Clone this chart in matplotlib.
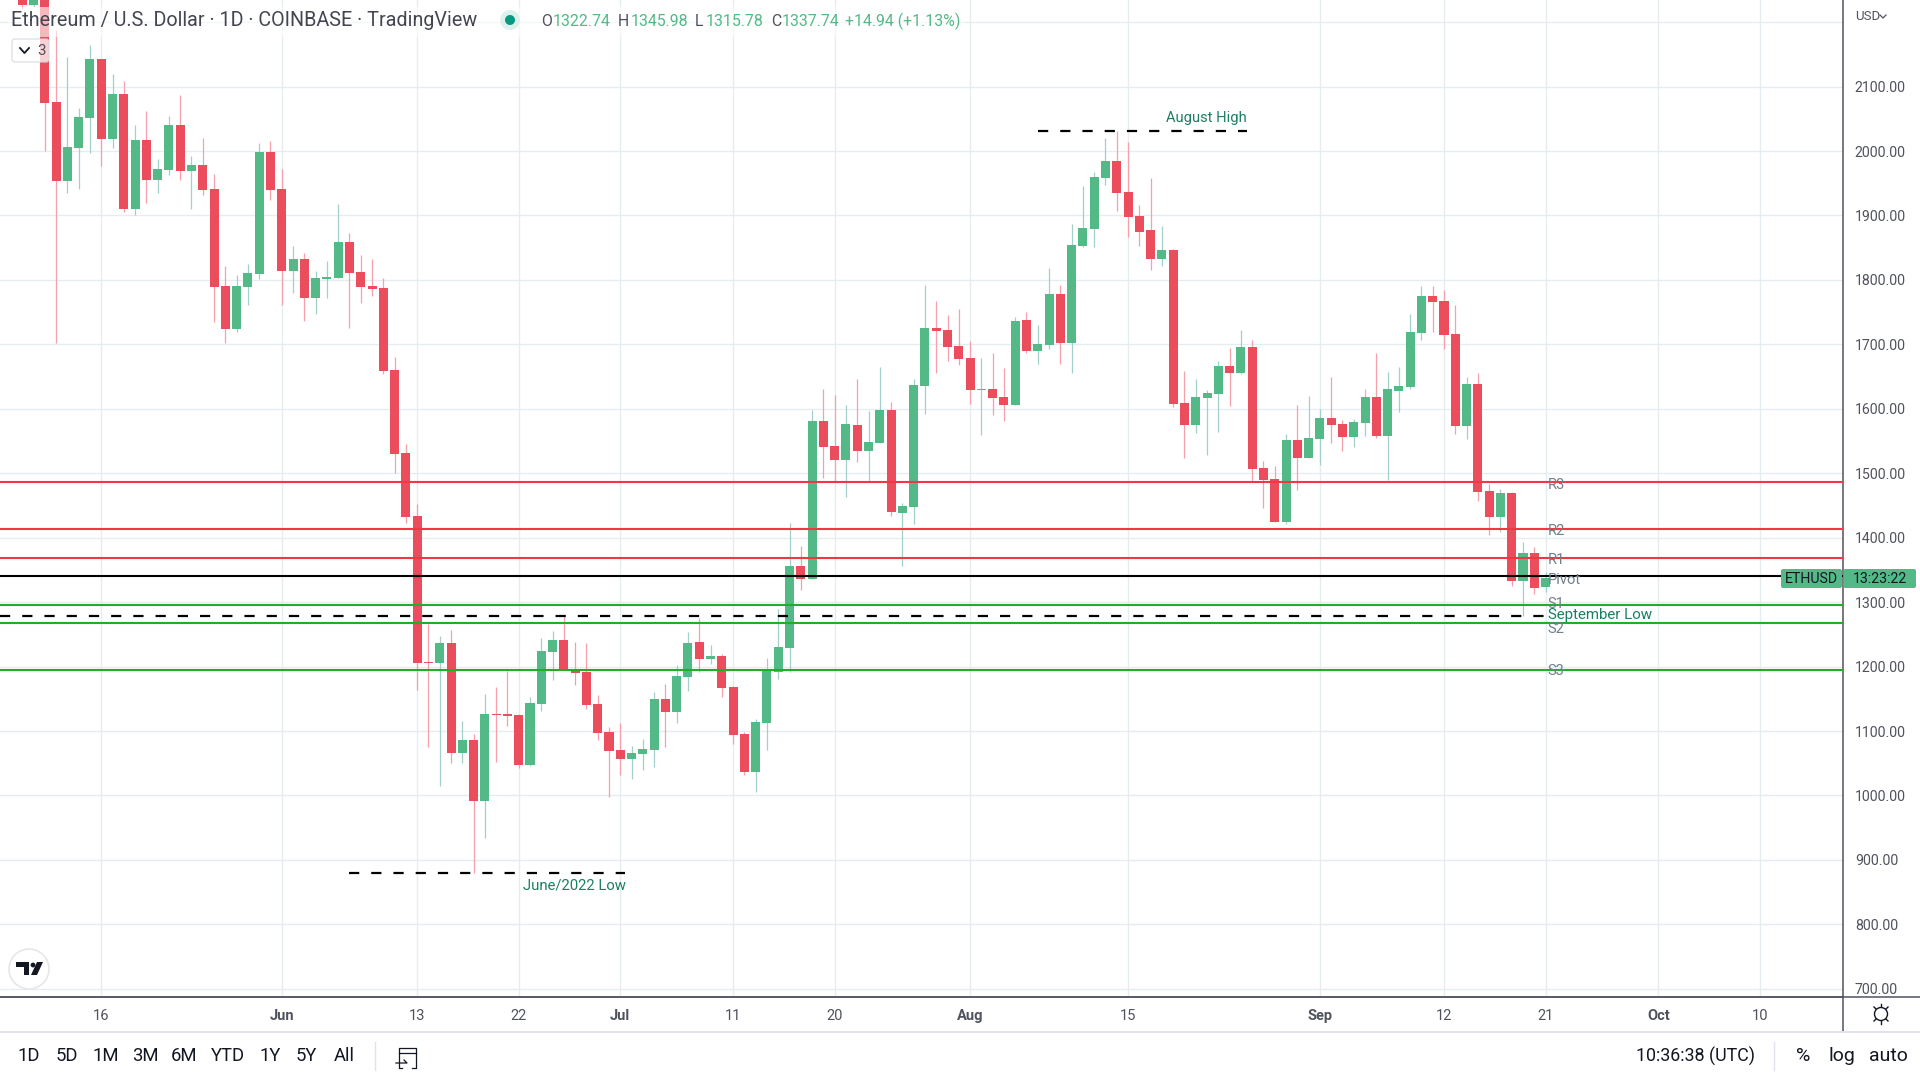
import matplotlib
matplotlib.use("Agg")
import matplotlib.pyplot as plt
from matplotlib.patches import Rectangle, FancyBboxPatch, Circle, Polygon

FONT = ['Roboto', 'DejaVu Sans']
plt.rcParams['font.family'] = FONT

first_day = -7
opens = [2245,2226,2245,2076,1953.5,2004.6,2051,2142.7,2018.6,2088,1910,2017,1955,1970.5,2040,1969,1978,1941,1790.5,1724,1789,1809,1998.4,1941,1814,1832.4,1772,1801,1803,1859,1812.5,1790.5,1787.4,1660,1531.4,1433.6,1207,1205.6,1236.6,1066,1086,991.4,1126,1126.4,1124.9,1047.8,1142,1222.6,1241,1193,1191.6,1142,1098.5,1070.5,1056.6,1064.3,1070.5,1149.7,1129.5,1183.8,1238,1211.8,1216.4,1168.4,1095.4,1036.4,1113,1191.6,1228.9,1356,1335.9,1581,1542.3,1520.5,1574.8,1534.5,1547,1598,1438.3,1447.6,1635.4,1725.4,1722.3,1697.4,1678.8,1629,1630.7,1618.3,1605.9,1737.8,1689.7,1699,1778.1,1702,1852.6,1879,1958,1984.5,1936.4,1899,1877.4,1832.4,1846.4,1609,1574.8,1616.7,1622.9,1666.4,1655.5,1695.9,1508,1491,1424.4,1551.6,1523.7,1553,1585.7,1576.4,1556.3,1578,1618.3,1557.8,1627.6,1633.8,1717.6,1775,1767.3,1716,1573.3,1638.5,1472.5,1432,1469.4,1332.8,1376.3,1322.74]
closes = [2226,2250,2075,1953.5,2006,2052.7,2142.7,2018.6,2088,1910,2017,1955,1972,2040,1969,1978,1939.5,1789,1724,1790.5,1811,1998.4,1939.5,1814,1832.4,1772,1803,1804.5,1859,1811,1789,1786,1658.6,1529.9,1432,1205.6,1205.6,1236.6,1066,1086,991.4,1126.4,1124.9,1123,1047.8,1143.5,1224,1241,1196,1190,1140.4,1097,1069,1056.6,1066,1072,1149.7,1129.5,1185.4,1236.6,1211.8,1216.4,1166.8,1093.8,1036.4,1114,1194.7,1230.4,1356,1335.9,1581,1540.7,1520.5,1576.4,1534.5,1548.5,1598,1439.9,1449.2,1636.9,1725.4,1720.7,1695.9,1677.3,1629,1630.7,1616.7,1605.9,1736.2,1689.7,1700.5,1778.1,1702,1854,1880.5,1959.7,1984.5,1934.8,1897.6,1874.3,1832.4,1846.4,1607.4,1574.8,1618.3,1624.5,1666.4,1655.5,1695.9,1506.6,1489.5,1424.3,1551.6,1523.7,1554.7,1585.7,1574.9,1556.3,1579.5,1618.3,1557.8,1630.7,1635.4,1719.2,1775,1765.7,1714.5,1573.3,1638.5,1470.9,1432,1469.4,1332.8,1376.3,1322,1337.74]
highs = [2260,2270,2260,2188,2146,2066.7,2164,2143,2119.5,2108.6,2040,2062,1987.6,2054,2087,1992,2020,1964,1821.6,1807.6,1825,2012,2015.5,1972,1852.6,1841.7,1814,1829,1918,1873,1838,1832.4,1803,1680,1545.4,1452,1266,1247.5,1256.8,1115,1096,1157.5,1168.3,1193,1126.4,1152.8,1244,1255,1280,1238,1236.6,1155.9,1107,1112,1077,1087.6,1160.6,1173,1202.5,1253.6,1275.4,1233.5,1219.5,1169.9,1098.5,1118.7,1213,1289.4,1422.8,1387,1598,1630.7,1621.4,1605.9,1646,1596.6,1664.8,1610.5,1453.8,1646,1792,1767.3,1745.5,1754.8,1705,1678.8,1686.6,1663.3,1742.4,1750,1730,1818.5,1792,1887,1945.7,1967.4,2020,2031,2014,1916,1958,1883.6,1848,1658.6,1646,1629,1674,1694,1722.3,1706.8,1519,1511,1560.9,1605.9,1619.9,1599,1649.4,1582.6,1584,1630.7,1686.6,1657,1664.9,1747,1790.5,1790.5,1784.3,1761,1649.4,1655.6,1483.3,1475.6,1471,1393.4,1385.6,1345.98]
lows = [2220,2223,2000,1701.6,1935,1941.5,1997,1977,2004.6,1905,1900.7,1919,1935,1963,1955,1910,1932,1735,1702,1719,1761,1801,1924,1761,1779.7,1736,1747,1772,1803,1725,1764,1775,1654,1500.4,1422.8,1163.7,1075,1014,1050,1050,879,934.5,1052.4,1108,1043,1045,1131,1179,1194.7,1171,1134,1086,998,1031.8,1025.5,1039.5,1044.7,1075.7,1112,1162,1191.6,1204,1152.8,1080,1031.8,1006,1070.5,1180.7,1191.6,1318.8,1335.9,1492.6,1488,1463,1517.4,1488,1547,1433.6,1356,1421.3,1592,1655.5,1674,1668,1607.4,1559.3,1590.4,1581,1605.9,1686.6,1669.5,1692.8,1669.5,1655.5,1851,1851,1947,1907,1866.6,1852.6,1815.4,1821.6,1602.8,1523.6,1562.4,1528.3,1564,1604.3,1654,1488,1446,1424,1421.8,1474,1523.7,1512.8,1547,1534.5,1540.7,1557.8,1554.7,1489.5,1595,1630.7,1706.8,1719,1692.8,1560.9,1553,1457,1404,1408.9,1325,1278.5,1312.6,1315.78]

pivot_names = ['R3','R2','R1','Pivot','S1','S2','S3']
pivot_values = [1486.4,1413.5,1368.5,1340.6,1295.6,1267.6,1194.7]
pivot_colors = ['#F23645','#F23645','#F23645','#000000','#1FAE2A','#1FAE2A','#1FAE2A']
pivot_label_values = [1482,1411,1366,1334,1297,1259,1193.7]

y_ticks = [700,800,900,1000,1100,1200,1300,1400,1500,1600,1700,1800,1900,2000,2100,2200]
y_labels = ['700.00','800.00','900.00','1000.00','1100.00','1200.00','1300.00','1400.00','1500.00','1600.00','1700.00','1800.00','1900.00','2000.00','2100.00','']
x_ticks = [0,16,28,37,46,56,65,77,91,108,119,128,138,147]
x_labels = ['16','Jun','13','22','Jul','11','20','Aug','15','Sep','12','21','Oct','10']
bold_labels = ['Jun','Jul','Aug','Sep','Oct']

GREEN = '#53B987'; RED = '#EB4D5C'
GREEN_W = '#A3CFCB'; RED_W = '#F5A0AB'
GRID = '#E6EDF1'; TXT = '#50535E'

fig = plt.figure(figsize=(19.2,10.8), dpi=100, facecolor='white')
ax = fig.add_axes([0, 1-997/1080, 1843/1920, 997/1080])
ax.set_xlim(-8.97,154.36); ax.set_ylim(687.3,2234.3)
ax.set_axisbelow(True)
ax.grid(True, color=GRID, lw=1.0)
ax.set_xticks(x_ticks); ax.set_xticklabels(x_labels, fontsize=10.5, color=TXT)
for t in ax.get_xticklabels():
    if t.get_text() in bold_labels:
        t.set_fontweight('bold')
ax.yaxis.tick_right()
ax.set_yticks(y_ticks); ax.set_yticklabels(y_labels, fontsize=10.2, color=TXT)
ax.tick_params(axis='y', length=0, pad=8.5)
ax.tick_params(axis='x', length=0, pad=8.5)
for s in ['top','left']:
    ax.spines[s].set_visible(False)
for s in ['right','bottom']:
    ax.spines[s].set_color(TXT); ax.spines[s].set_linewidth(1.1)

xs = [first_day+i for i in range(len(opens))]
for x,o,h,l,c in zip(xs,opens,highs,lows,closes):
    up = c >= o
    ax.vlines(x, l, h, color=GREEN_W if up else RED_W, lw=0.9, zorder=2)
    ax.bar(x, max(abs(c-o),1.6), bottom=min(o,c), width=0.8, color=GREEN if up else RED, lw=0, zorder=3)

for v,col in zip(pivot_values,pivot_colors):
    ax.axhline(v, color=col, lw=1.5, zorder=4)
for n,v in zip(pivot_names,pivot_label_values):
    ax.text(128.2, v, n, fontsize=10.6, color='#6F7F8C', va='center', ha='left', zorder=5)

DASH=(0,(4.6,5.4))
ax.plot([-8.97,128.3],[1278.5,1278.5], color='black', lw=1.6, ls=DASH, zorder=5)
ax.plot([83.0,101.5],[2031,2031], color='black', lw=1.6, ls=DASH, zorder=5)
ax.plot([22.0,46.4],[880,880], color='black', lw=1.6, ls=DASH, zorder=5)
NOTE='#1B7F63'
ax.text(128.2,1280,'September Low',fontsize=10.9,color=NOTE,va='center',ha='left',zorder=6)
ax.text(101.5,2051,'August High',fontsize=10.6,color=NOTE,va='center',ha='right')
ax.text(41.9,861,'June/2022 Low',fontsize=10.7,color=NOTE,va='center',ha='center')

# interface chrome, in pixels
ui = fig.add_axes([0,0,1,1], zorder=10)
ui.set_xlim(0,1920); ui.set_ylim(1080,0); ui.axis('off'); ui.patch.set_alpha(0)
ui.add_patch(Rectangle((8,7),957,30,fc='white',ec='none',alpha=0.6))
ui.text(11,21,'Ethereum / U.S. Dollar · 1D · COINBASE · TradingView',fontsize=14.2,color='#434651',va='center')
ui.add_patch(Circle((510,20),10,fc='#DDF1EC',ec='none'))
ui.add_patch(Circle((510,20),5,fc='#089981',ec='none'))
for x,t,c in [(541,'O',TXT),(553,'1322.74',GREEN),(618,'H',TXT),(631,'1345.98',GREEN),(695,'L',TXT),(706,'1315.78',GREEN),(771,'C',TXT),(782,'1337.74',GREEN),(845,'+14.94 (+1.13%)',GREEN)]:
    ui.text(x,21,t,fontsize=11.4,color=c,va='center')
ui.add_patch(FancyBboxPatch((12,39),37,23,boxstyle='round,pad=0,rounding_size=3',fc='white',ec='#D6D8E0',lw=1,alpha=0.75))
ui.plot([20,24.5,29],[48,53,48],color='#131722',lw=1.3)
ui.text(37,51,'3',fontsize=11,color=TXT,va='center')
ui.text(1855,16.5,'USD',fontsize=9.5,color=TXT,va='center')
ui.plot([1880,1883,1886],[15,18,15],color=TXT,lw=0.9)

ui.plot([0,1920],[997,997],color=TXT,lw=1.1)
ui.plot([1843,1843],[997,1031],color=TXT,lw=1.1)
ui.plot([0,1920],[1032,1032],color='#E0E3EB',lw=1.4)
ui.plot([375,375],[1042,1070],color='#E0E3EB',lw=1)
ui.plot([1774,1774],[1042,1070],color='#E0E3EB',lw=1)
for x,t in [(29,'1D'),(67,'5D'),(106,'1M'),(145,'3M'),(184,'6M'),(228,'YTD'),(270,'1Y'),(306,'5Y'),(344,'All')]:
    ui.text(x,1056,t,fontsize=13.3,color='#131722',va='center',ha='center')
ui.text(1695,1056,'10:36:38 (UTC)',fontsize=12.9,color='#131722',va='center',ha='center')
for x,t in [(1803,'%'),(1842,'log'),(1888,'auto')]:
    ui.text(x,1056,t,fontsize=14,color='#131722',va='center',ha='center')
# calendar icon
ui.plot([402,399,399,416,416,412],[1068,1068,1048,1048,1068,1068],color='#131722',lw=0.9)
ui.plot([399,416],[1053,1053],color='#131722',lw=0.9)
ui.plot([396,407,404],[1063,1063,1060],color='#131722',lw=0.9)
# settings icon
ui.plot([1881,1881],[1004,1024],color='#131722',lw=1,zorder=1)
ui.plot([1874,1888],[1007,1021],color='#131722',lw=1,zorder=1)
ui.plot([1888,1874],[1007,1021],color='#131722',lw=1,zorder=1)
ui.add_patch(Circle((1881,1014),6.5,fc='white',ec='#131722',lw=1,zorder=2))
# logo
ui.add_patch(Circle((29,969),20,fc='white',ec='#E5E7EC',lw=1.2))
ui.add_patch(Polygon([[16,962],[29,962],[29,975],[24,975],[24,967],[16,967]],fc='#131722',ec='none'))
ui.add_patch(Circle((33,965),2.4,fc='#131722',ec='none'))
ui.add_patch(Polygon([[37,962],[43,962],[37,975],[31,975]],fc='#131722',ec='none'))
# price tag
ui.add_patch(FancyBboxPatch((1781,569),61,19,boxstyle='round,pad=0,rounding_size=2',fc=GREEN,ec='none'))
ui.add_patch(FancyBboxPatch((1843.5,569),72.5,19,boxstyle='round,pad=0,rounding_size=2',fc=GREEN,ec='none'))
ui.text(1811.5,579,'ETHUSD',fontsize=10.2,color='#131722',va='center',ha='center')
ui.text(1880,579,'13:23:22',fontsize=10.2,color='#131722',va='center',ha='center')

fig.savefig('out.png', dpi=100)
